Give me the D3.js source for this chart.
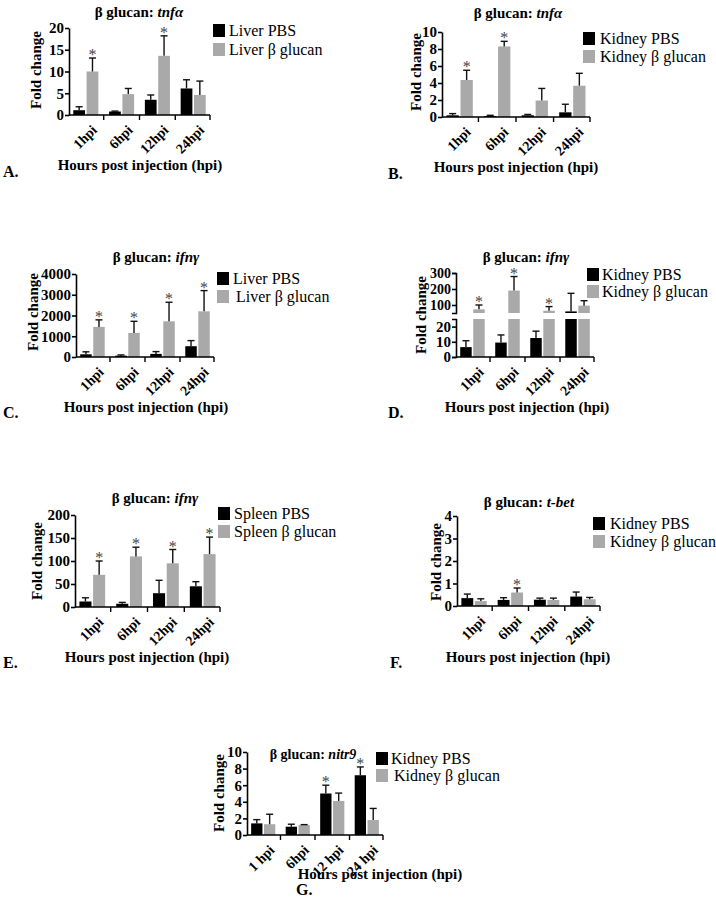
<!DOCTYPE html>
<html><head><meta charset="utf-8">
<script src="https://cdn.jsdelivr.net/npm/d3@7"></script>
<style>
body{margin:0;background:#fff}
text{font-family:"Liberation Serif","Times New Roman",serif}
</style>
</head><body>
<svg id="chart" width="716" height="900"></svg>
<script>
// ---------- data ----------
const hpi = ["1hpi", "6hpi", "12hpi", "24hpi"];
const hpiG = ["1 hpi", "6hpi", "12 hpi", "24 hpi"];

// A: liver tnfα
const liverTnfPbs = [1.1, 0.8, 3.5, 6.1];
const liverTnfPbsSd = [0.8, 0.1, 1.1, 2.0];
const liverTnfGlu = [10.0, 4.8, 13.6, 4.6];
const liverTnfGluSd = [3.1, 1.3, 4.6, 3.2];
const liverTnfStars = [1, 0, 1, 0];
const ticksA = [0, 5, 10, 15, 20];

// B: kidney tnfα
const kidTnfPbs = [0.2, 0.12, 0.2, 0.55];
const kidTnfPbsSd = [0.2, 0.08, 0.1, 0.95];
const kidTnfGlu = [4.35, 8.3, 1.94, 3.68];
const kidTnfGluSd = [1.15, 0.6, 1.42, 1.46];
const kidTnfStars = [1, 1, 0, 0];
const ticksB = [0, 2, 4, 6, 8, 10];

// C: liver ifnγ
const liverIfnPbs = [130, 65, 150, 520];
const liverIfnPbsSd = [120, 35, 110, 270];
const liverIfnGlu = [1450, 1160, 1720, 2200];
const liverIfnGluSd = [340, 560, 920, 1000];
const liverIfnStars = [1, 1, 1, 1];
const ticksC = [0, 1000, 2000, 3000, 4000];

// D: kidney ifnγ (broken axis)
const kidIfnPbs = [6.5, 9.5, 12.5, 60];
const kidIfnPbsSd = [4.2, 5, 4.5, 113];
const kidIfnGlu = [73, 190, 64, 96];
const kidIfnGluSd = [27, 88, 26, 31];
const kidIfnStars = [1, 1, 1, 0];
const ticksDLow = [0, 10, 20];
const ticksDHigh = [100, 200, 300];

// E: spleen ifnγ
const spleenIfnPbs = [12, 7, 30, 45];
const spleenIfnPbsSd = [8, 3, 28, 10];
const spleenIfnGlu = [70, 110, 95, 115];
const spleenIfnGluSd = [30, 20, 30, 37];
const spleenIfnStars = [1, 1, 1, 1];
const ticksE = [0, 50, 100, 150, 200];

// F: kidney t-bet
const kidTbetPbs = [0.35, 0.27, 0.28, 0.42];
const kidTbetPbsSd = [0.18, 0.1, 0.07, 0.2];
const kidTbetGlu = [0.22, 0.6, 0.27, 0.3];
const kidTbetGluSd = [0.1, 0.2, 0.08, 0.08];
const kidTbetStars = [0, 1, 0, 0];
const ticksF = [0, 1, 2, 3, 4];

// G: kidney nitr9
const kidNitrPbs = [1.4, 1.0, 5.0, 7.2];
const kidNitrPbsSd = [0.45, 0.3, 1.0, 1.0];
const kidNitrGlu = [1.3, 1.2, 4.1, 1.8];
const kidNitrGluSd = [1.2, 0.05, 0.95, 1.4];
const kidNitrPbsStars = [0, 0, 1, 1];
const ticksG = [0, 2, 4, 6, 8, 10];

// ---------- layout ----------
const BLACK = "#000", GREY = "#a9a9a9";
const svg = d3.select("#chart");
const fmt = d3.format("d");

const panels = [
  {cats: hpi, pbs: liverTnfPbs, pbsSd: liverTnfPbsSd, glu: liverTnfGlu, gluSd: liverTnfGluSd,
   gluStars: liverTnfStars, ticks: ticksA, max: 20, gene: "tnfα",
   leg: ["Liver PBS", "Liver β glucan"],
   x0: 69, x1: 210, y0: 115, yTop: 28, titleX: 139, titleY: 12, legX: 213, legY: [24, 43], legTX: [229, 229],
   foldX: 36, foldY: 70, letter: "A.", letterX: 3, letterY: 177, hoursX: 140, hoursY: 170},
  {cats: hpi, pbs: kidTnfPbs, pbsSd: kidTnfPbsSd, glu: kidTnfGlu, gluSd: kidTnfGluSd,
   gluStars: kidTnfStars, ticks: ticksB, max: 10, gene: "tnfα",
   leg: ["Kidney PBS", "Kidney β glucan"],
   x0: 442, x1: 590, y0: 117, yTop: 32, titleX: 518, titleY: 13, legX: 583, legY: [32, 50], legTX: [600, 600],
   foldX: 416, foldY: 72, letter: "B.", letterX: 388, letterY: 179, hoursX: 516, hoursY: 172},
  {cats: hpi, pbs: liverIfnPbs, pbsSd: liverIfnPbsSd, glu: liverIfnGlu, gluSd: liverIfnGluSd,
   gluStars: liverIfnStars, ticks: ticksC, max: 4000, gene: "ifnγ",
   leg: ["Liver PBS", "Liver β glucan"],
   x0: 76, x1: 214, y0: 357, yTop: 274, titleX: 156, titleY: 257, legX: 217, legY: [272, 290], legTX: [233, 236],
   foldX: 33, foldY: 312, letter: "C.", letterX: 3, letterY: 418, hoursX: 146, hoursY: 412},
  {cats: hpi, pbs: kidIfnPbs, pbsSd: kidIfnPbsSd, glu: kidIfnGlu, gluSd: kidIfnGluSd,
   gluStars: kidIfnStars, broken: true, gene: "ifnγ",
   leg: ["Kidney PBS", "Kidney β glucan"],
   x0: 456, x1: 594, y0: 357, titleX: 526, titleY: 257, legX: 587, legY: [268, 285], legTX: [602, 602],
   foldX: 421, foldY: 315, letter: "D.", letterX: 388, letterY: 418, hoursX: 527, hoursY: 412},
  {cats: hpi, pbs: spleenIfnPbs, pbsSd: spleenIfnPbsSd, glu: spleenIfnGlu, gluSd: spleenIfnGluSd,
   gluStars: spleenIfnStars, ticks: ticksE, max: 200, gene: "ifnγ",
   leg: ["Spleen PBS", "Spleen β glucan"],
   x0: 75, x1: 220, y0: 607, yTop: 515, titleX: 155, titleY: 498, legX: 218, legY: [507, 525], legTX: [234, 234],
   foldX: 37, foldY: 561, letter: "E.", letterX: 3, letterY: 668, hoursX: 147, hoursY: 662},
  {cats: hpi, pbs: kidTbetPbs, pbsSd: kidTbetPbsSd, glu: kidTbetGlu, gluSd: kidTbetGluSd,
   gluStars: kidTbetStars, ticks: ticksF, max: 4, gene: "t-bet",
   leg: ["Kidney PBS", "Kidney β glucan"],
   x0: 457, x1: 600, y0: 606, yTop: 516, titleX: 529, titleY: 502, legX: 593, legY: [517, 535], legTX: [610, 610],
   foldX: 436, foldY: 562, letter: "F.", letterX: 390, letterY: 668, hoursX: 528, hoursY: 662},
  {cats: hpiG, pbs: kidNitrPbs, pbsSd: kidNitrPbsSd, glu: kidNitrGlu, gluSd: kidNitrGluSd,
   pbsStars: kidNitrPbsStars, ticks: ticksG, max: 10, gene: "nitr9",
   leg: ["Kidney PBS", "Kidney β glucan"],
   x0: 247, x1: 383, y0: 835, yTop: 752, titleX: 313, titleY: 754, titleSize: 14, legX: 376, legY: [752, 769], legTX: [391, 394],
   foldX: 219, foldY: 793, letter: "G.", letterX: 296, letterY: 895, hoursX: 380, hoursY: 879}
];

function styleAxis(sel) {
  sel.select(".domain").attr("stroke", "#000").attr("stroke-width", 1.6);
  sel.selectAll(".tick line").attr("stroke", "#000").attr("stroke-width", 1.6);
  sel.selectAll(".tick text").attr("fill", "#000").style("font-weight", "bold")
     .style("font-size", "15px").style("font-family", '"Liberation Serif",serif');
}

function errBar(g, cx, yA, yB) {
  g.append("line").attr("x1", cx).attr("x2", cx).attr("y1", yA).attr("y2", yB)
    .attr("stroke", "#111").attr("stroke-width", 1.4);
  g.append("line").attr("x1", cx - 3.5).attr("x2", cx + 3.5).attr("y1", yB).attr("y2", yB)
    .attr("stroke", "#111").attr("stroke-width", 1.4);
}
function star(g, cx, yB) {
  g.append("text").attr("x", cx).attr("y", yB + 2).attr("text-anchor", "middle")
    .style("font-size", "16px").attr("fill", "#444").text("*");
}

function drawPanel(p) {
  const g = svg.append("g");
  const x = d3.scaleBand().domain(p.cats).range([p.x0, p.x1]).paddingInner(0.3).paddingOuter(0.12);
  const sub = d3.scaleBand().domain([0, 1]).range([0, x.bandwidth()]).paddingInner(0.12);

  if (p.broken) {
    const yLow = d3.scaleLinear().domain([0, 25]).range([p.y0, 319]);
    const yHigh = d3.scaleLinear().domain([50, 300]).range([313, 273]);
    const aL = g.append("g").attr("transform", `translate(${p.x0},0)`)
      .call(d3.axisLeft(yLow).tickValues(ticksDLow).tickFormat(fmt).tickSize(4).tickSizeOuter(4).tickPadding(1));
    styleAxis(aL);
    const aH = g.append("g").attr("transform", `translate(${p.x0},0)`)
      .call(d3.axisLeft(yHigh).tickValues(ticksDHigh).tickFormat(fmt).tickSize(4).tickSizeOuter(4).tickPadding(1));
    styleAxis(aH);
    aH.selectAll(".tick text").style("font-size", "14px");
    const series = [[p.pbs, p.pbsSd, BLACK], [p.glu, p.gluSd, GREY]];
    series.forEach(([vals, sds, col], si) => {
      vals.forEach((v, i) => {
        const bx = x(p.cats[i]) + sub(si), bw = sub.bandwidth(), cx = bx + bw / 2;
        const lowTop = yLow(Math.min(v, 25));
        g.append("rect").attr("x", bx).attr("y", lowTop).attr("width", bw).attr("height", p.y0 - lowTop).attr("fill", col);
        if (v > 50) {
          g.append("rect").attr("x", bx).attr("y", yHigh(v)).attr("width", bw).attr("height", yHigh(50) - yHigh(v)).attr("fill", col);
        }
        const top = v + sds[i];
        let yA, yB;
        if (top <= 25) { yA = yLow(v); yB = yLow(top); }
        else { yA = yHigh(Math.max(v, 50)); yB = yHigh(top); }
        errBar(g, cx, yA, yB);
        if (si === 1 && p.gluStars[i]) star(g, cx, yB);
      });
    });
  } else {
    const y = d3.scaleLinear().domain([0, p.max]).range([p.y0, p.yTop]);
    const ax = g.append("g").attr("transform", `translate(${p.x0},0)`)
      .call(d3.axisLeft(y).tickValues(p.ticks).tickFormat(fmt).tickSize(4).tickSizeOuter(0).tickPadding(1));
    styleAxis(ax);
    const series = [[p.pbs, p.pbsSd, BLACK, p.pbsStars], [p.glu, p.gluSd, GREY, p.gluStars]];
    series.forEach(([vals, sds, col, stars], si) => {
      vals.forEach((v, i) => {
        const bx = x(p.cats[i]) + sub(si), bw = sub.bandwidth(), cx = bx + bw / 2;
        g.append("rect").attr("x", bx).attr("y", y(v)).attr("width", bw).attr("height", p.y0 - y(v)).attr("fill", col);
        const yB = y(v + sds[i]);
        errBar(g, cx, y(v), yB);
        if (stars && stars[i]) star(g, cx, yB);
      });
    });
  }

  // x axis line + boundary ticks + rotated labels
  g.append("line").attr("x1", p.x0).attr("x2", p.x1).attr("y1", p.y0).attr("y2", p.y0)
    .attr("stroke", "#000").attr("stroke-width", 1.6);
  const half = (x.step() - x.bandwidth()) / 2;
  const bounds = p.cats.map(c => x(c) + x.bandwidth() + half).slice(0, -1);
  bounds.concat([p.x1]).forEach(bx => {
    g.append("line").attr("x1", bx).attr("x2", bx).attr("y1", p.y0).attr("y2", p.y0 + 5)
      .attr("stroke", "#000").attr("stroke-width", 1.4);
  });
  p.cats.forEach(c => {
    const cx = x(c) + x.bandwidth() / 2;
    g.append("text").attr("transform", `translate(${cx + 5},${p.y0 + 9}) rotate(-45)`)
      .attr("text-anchor", "end").attr("dy", "0.7em")
      .style("font-size", "14px").style("font-weight", "bold").text(c);
  });

  // title
  const t = g.append("text").attr("x", p.titleX).attr("y", p.titleY).attr("dy", "0.35em")
    .attr("text-anchor", "middle").style("font-size", (p.titleSize || 15) + "px").style("font-weight", "bold");
  t.append("tspan").text("β glucan: ");
  t.append("tspan").style("font-style", "italic").text(p.gene);

  // legend
  [BLACK, GREY].forEach((col, k) => {
    g.append("rect").attr("x", p.legX).attr("y", p.legY[k]).attr("width", 12).attr("height", 13).attr("fill", col);
    g.append("text").attr("x", p.legTX[k]).attr("y", p.legY[k] + 6.5).attr("dy", "0.35em")
      .style("font-size", "16px").text(p.leg[k]);
  });

  // y label
  g.append("text").attr("transform", `translate(${p.foldX},${p.foldY}) rotate(-90)`)
    .attr("text-anchor", "middle").attr("dy", "0.35em")
    .style("font-size", "15px").style("font-weight", "bold").text("Fold change");

  // x title
  g.append("text").attr("x", p.hoursX).attr("y", p.hoursY).attr("text-anchor", "middle")
    .style("font-size", "15px").style("font-weight", "bold").text("Hours post injection (hpi)");

  // panel letter
  g.append("text").attr("x", p.letterX).attr("y", p.letterY)
    .style("font-size", "16px").style("font-weight", "bold").text(p.letter);
}

panels.forEach(drawPanel);
</script>
</body></html>
